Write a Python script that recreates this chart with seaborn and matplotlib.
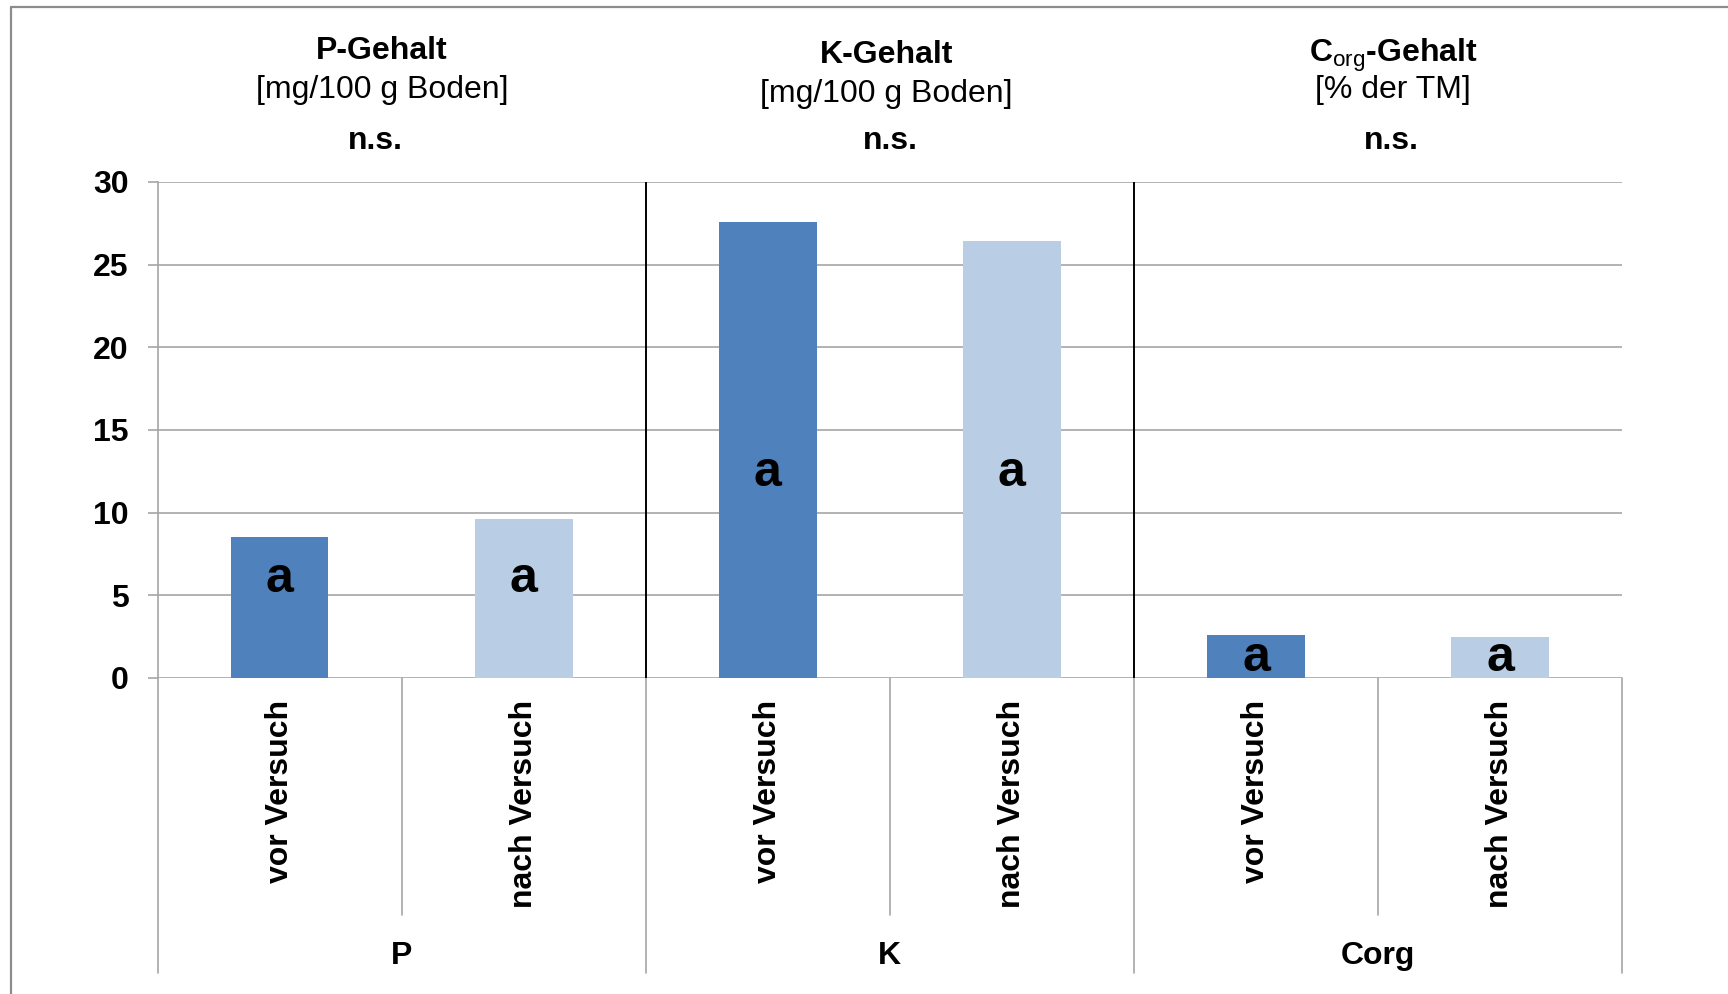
import pandas as pd
import matplotlib
matplotlib.use('Agg')
import matplotlib.pyplot as plt
from matplotlib.lines import Line2D
import matplotlib.transforms as mtransforms
import seaborn as sns

# Data
groups = ['P', 'K', 'Corg']
periods = ['vor Versuch', 'nach Versuch']
vor_values = [8.5, 27.6, 2.6]
nach_values = [9.6, 26.4, 2.45]
letters_vor = ['a', 'a', 'a']
letters_nach = ['a', 'a', 'a']
titles = ['P-Gehalt', 'K-Gehalt', r'$\mathbf{C}_{\mathrm{org}}$-Gehalt']
units = ['[mg/100 g Boden]', '[mg/100 g Boden]', '[% der TM]']
signif = ['n.s.', 'n.s.', 'n.s.']
yticks = [0, 5, 10, 15, 20, 25, 30]

# long table for seaborn
rows = []
for g, v, n in zip(groups, vor_values, nach_values):
    rows.append({'group': g, 'period': periods[0], 'value': v})
    rows.append({'group': g, 'period': periods[1], 'value': n})
df = pd.DataFrame(rows)
df['slot'] = df['group'] + ' ' + df['period']
slots = list(df['slot'])
letters = [l for pair in zip(letters_vor, letters_nach) for l in pair]

sns.set_theme(style='white')
plt.rcParams['font.family'] = ['Liberation Sans', 'DejaVu Sans']
plt.rcParams['mathtext.fontset'] = 'custom'
plt.rcParams['mathtext.rm'] = 'Liberation Sans'
plt.rcParams['mathtext.bf'] = 'Liberation Sans:bold'
plt.rcParams['text.color'] = 'black'
plt.rcParams['xtick.color'] = 'black'
plt.rcParams['ytick.color'] = 'black'
plt.rcParams['axes.labelcolor'] = 'black'

fig = plt.figure(figsize=(17.28, 9.94), dpi=100)
ax = fig.add_axes([0.0912, 0.318, 0.8475, 0.499])

sns.barplot(data=df, x='slot', y='value', hue='period', order=slots,
            hue_order=periods, palette=['#4F81BD', '#B9CDE5'], dodge=False,
            width=0.4, saturation=1, linewidth=0, legend=False, ax=ax)

grid_col = '#A6A6A6'
ax.set_xlim(-0.5, 5.5)
ax.set_ylim(0, 30)
ax.set_yticks(yticks)
ax.set_yticklabels([str(t) for t in yticks], fontsize=23, fontweight='bold')
ax.yaxis.grid(True, color=grid_col, lw=1.2)
ax.set_axisbelow(True)
for s in ['top', 'right', 'bottom']:
    ax.spines[s].set_visible(False)
ax.spines['left'].set_color(grid_col)
ax.spines['left'].set_linewidth(1.2)
ax.tick_params(axis='y', length=7, width=1.2, color=grid_col, labelcolor='black',
               pad=14, left=True)
ax.set_xticks(range(len(slots)))
ax.set_xticklabels([p for g in groups for p in periods], rotation=90,
                   fontsize=23, fontweight='bold', va='top', ha='center')
ax.tick_params(axis='x', length=0, pad=16, labelcolor='black')
ax.set_xlabel('')
ax.set_ylabel('')

# black dividers between groups
for x in [1.5, 3.5]:
    ax.axvline(x, color='black', lw=1.4, zorder=3)

# category lines below the axis
trans = mtransforms.blended_transform_factory(ax.transData, ax.transAxes)
for x in [-0.5, 1.5, 3.5, 5.5]:
    ax.plot([x, x], [0, -0.595], transform=trans, color=grid_col, lw=1.2, clip_on=False)
for x in [0.5, 2.5, 4.5]:
    ax.plot([x, x], [0, -0.478], transform=trans, color=grid_col, lw=1.2, clip_on=False)
for i, g in enumerate(groups):
    ax.text(2 * i + 0.5, -0.56, g, transform=trans, ha='center', va='center',
            fontsize=23, fontweight='bold')

# significance letters inside bars
letter_y = [6.0, 6.0, 12.4, 12.4, 1.2, 1.2]
for i, (l, y) in enumerate(zip(letters, letter_y)):
    ax.text(i, y, l, ha='center', va='center', fontsize=36, fontweight='bold')

# group titles above the plot
title_x = [0.221, 0.513, 0.806]
ns_x = [0.217, 0.515, 0.805]
title_y = [0.949, 0.945, 0.944]
unit_y = [0.909, 0.905, 0.909]
for i in range(3):
    fig.text(title_x[i], title_y[i], titles[i], ha='center', va='center',
             fontsize=23, fontweight='bold')
    fig.text(title_x[i], unit_y[i], units[i], ha='center', va='center', fontsize=23)
    fig.text(ns_x[i], 0.858, signif[i], ha='center', va='center',
             fontsize=23, fontweight='bold')

# chart frame (top and left edge visible)
fig.add_artist(Line2D([0.0064, 1.0], [0.993, 0.993], color='#8C8C8C', lw=1.6))
fig.add_artist(Line2D([0.0064, 0.0064], [0.0, 0.993], color='#8C8C8C', lw=1.6))

fig.savefig('out.png', dpi=100)
